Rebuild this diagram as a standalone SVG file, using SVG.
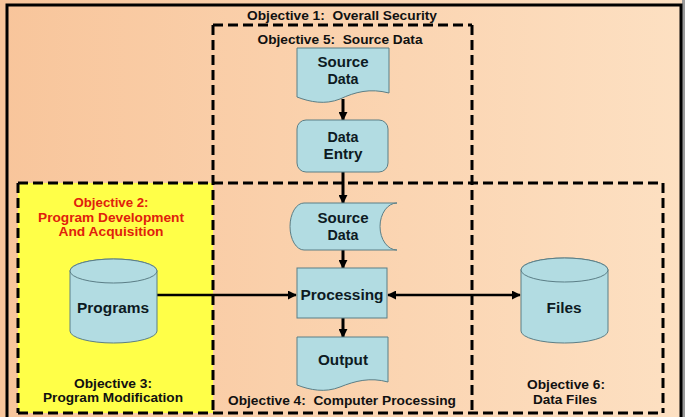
<svg xmlns="http://www.w3.org/2000/svg" width="685" height="417" viewBox="0 0 685 417">
<defs>
<linearGradient id="bg" x1="0" y1="0" x2="1" y2="0">
<stop offset="0" stop-color="#f8c59b"/>
<stop offset="1" stop-color="#fde0c2"/>
</linearGradient>
<marker id="ah" viewBox="0 0 10 10" refX="9" refY="5" markerWidth="9" markerHeight="9" markerUnits="userSpaceOnUse" orient="auto-start-reverse">
<path d="M0,0 L10,5 L0,10 Z" fill="#000"/>
</marker>
<style>
.node{fill:#b2dce2;stroke:#5b7e86;stroke-width:1}
.dash{fill:none;stroke:#000;stroke-width:3;stroke-dasharray:10 5}
.lbl{font-family:"Liberation Sans",Arial,sans-serif;font-weight:bold;fill:#111;text-anchor:middle;white-space:pre}
.obj{font-size:12.5px}
.nt{font-size:14px;fill:#0d1a22}
.red{fill:#e0200c}
.conn{stroke:#000;fill:none}
</style>
</defs>
<rect x="0" y="0" width="685" height="417" fill="url(#bg)"/>
<rect x="682" y="0" width="3" height="417" fill="#9a9a9a"/>
<rect x="18" y="183" width="195" height="230" fill="#ffff48"/>
<rect x="7" y="5" width="674" height="420" fill="none" stroke="#000" stroke-width="3"/>

<g id="zones">
<path class="dash" d="M213,25 H472"/>
<path class="dash" d="M213,25 V413"/>
<path class="dash" d="M472,25 V413"/>
<path class="dash" d="M18,183 H663"/>
<path class="dash" d="M18,183 V413"/>
<path class="dash" d="M663,183 V413"/>
<path class="dash" d="M18,413 H663"/>
</g>

<g id="labels">
<text class="lbl obj" x="342" y="20" textLength="190" lengthAdjust="spacingAndGlyphs" xml:space="preserve">Objective 1:  Overall Security</text>
<text class="lbl obj" x="340" y="44" textLength="165" lengthAdjust="spacingAndGlyphs" xml:space="preserve">Objective 5:  Source Data</text>
<text class="lbl obj red" x="111" y="207" textLength="75" lengthAdjust="spacingAndGlyphs">Objective 2:</text>
<text class="lbl obj red" x="111" y="222" textLength="146" lengthAdjust="spacingAndGlyphs">Program Development</text>
<text class="lbl obj red" x="111" y="236" textLength="105" lengthAdjust="spacingAndGlyphs">And Acquisition</text>
<text class="lbl obj" x="113" y="388" textLength="78" lengthAdjust="spacingAndGlyphs">Objective 3:</text>
<text class="lbl obj" x="113" y="402" textLength="140" lengthAdjust="spacingAndGlyphs">Program Modification</text>
<text class="lbl obj" x="342" y="405" textLength="228" lengthAdjust="spacingAndGlyphs" xml:space="preserve">Objective 4:  Computer Processing</text>
<text class="lbl obj" x="566" y="389" textLength="78" lengthAdjust="spacingAndGlyphs">Objective 6:</text>
<text class="lbl obj" x="565" y="404" textLength="64" lengthAdjust="spacingAndGlyphs">Data Files</text>
</g>

<g id="connectors">
<line class="conn" x1="343" y1="99" x2="343" y2="120" stroke-width="3" marker-end="url(#ah)"/>
<line class="conn" x1="343" y1="172" x2="343" y2="203" stroke-width="3" marker-end="url(#ah)"/>
<line class="conn" x1="343" y1="250" x2="343" y2="268" stroke-width="3" marker-end="url(#ah)"/>
<line class="conn" x1="343" y1="318" x2="343" y2="337" stroke-width="3" marker-end="url(#ah)"/>
<line class="conn" x1="157" y1="295" x2="296" y2="295" stroke-width="2.5" marker-end="url(#ah)"/>
<line class="conn" x1="388" y1="295" x2="520" y2="295" stroke-width="2.5" marker-start="url(#ah)" marker-end="url(#ah)"/>
</g>

<g id="source-data-doc">
<path class="node" d="M297,48 H389 V93 C370,88 355,92 340,99 C325,105 310,102 297,97 Z"/>
<text class="lbl nt" x="343" y="67" textLength="51" lengthAdjust="spacingAndGlyphs">Source</text>
<text class="lbl nt" x="343" y="84" textLength="31" lengthAdjust="spacingAndGlyphs">Data</text>
</g>

<g id="data-entry">
<rect class="node" x="297" y="120" width="91" height="52" rx="9"/>
<text class="lbl nt" x="343" y="142" textLength="31" lengthAdjust="spacingAndGlyphs">Data</text>
<text class="lbl nt" x="343" y="159" textLength="39" lengthAdjust="spacingAndGlyphs">Entry</text>
</g>

<g id="source-data-stored">
<path class="node" d="M304,203 H397 A17,23.5 0 0 0 397,250 H304 A14,23.5 0 0 1 304,203 Z"/>
<text class="lbl nt" x="343" y="223" textLength="51" lengthAdjust="spacingAndGlyphs">Source</text>
<text class="lbl nt" x="343" y="240" textLength="31" lengthAdjust="spacingAndGlyphs">Data</text>
</g>

<g id="processing">
<rect class="node" x="297" y="268" width="90" height="50"/>
<text class="lbl nt" x="342" y="300" textLength="83" lengthAdjust="spacingAndGlyphs">Processing</text>
</g>

<g id="output">
<path class="node" d="M297,337 H388 V382 C370,377 355,381 340,387 C325,393 310,390 297,385 Z"/>
<text class="lbl nt" x="343" y="365" textLength="50" lengthAdjust="spacingAndGlyphs">Output</text>
</g>

<g id="programs">
<path class="node" d="M70,271 V331 A43.5,12 0 0 0 157,331 V271 A43.5,12 0 0 0 70,271 Z"/>
<ellipse class="node" cx="113.5" cy="271" rx="43.5" ry="12"/>
<text class="lbl nt" x="113" y="313" textLength="72" lengthAdjust="spacingAndGlyphs">Programs</text>
</g>

<g id="files">
<path class="node" d="M521,270 V331 A43.5,12 0 0 0 608,331 V270 A43.5,12 0 0 0 521,270 Z"/>
<ellipse class="node" cx="564.5" cy="270" rx="43.5" ry="12"/>
<text class="lbl nt" x="564" y="313" textLength="35" lengthAdjust="spacingAndGlyphs">Files</text>
</g>
</svg>
